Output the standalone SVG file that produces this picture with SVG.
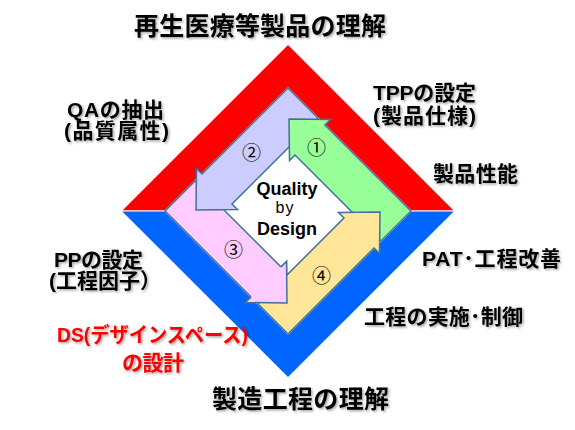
<svg xmlns="http://www.w3.org/2000/svg" width="575" height="430" viewBox="0 0 575 430">
<defs>
<style>
.lbl{font-family:"Liberation Sans","Noto Sans CJK JP",sans-serif;font-weight:bold;font-size:21px;fill:#000}
.ttl{font-size:25px}
.red{fill:#FF0000}
.ctr{font-family:"Liberation Sans",Arial,sans-serif;font-weight:bold;font-size:18px;fill:#000}
.by{font-family:"Liberation Sans",Arial,sans-serif;font-size:16px;fill:#000;letter-spacing:1px}
.num{font-family:"Noto Sans CJK JP","DejaVu Sans",sans-serif;font-size:19px;fill:#000}
.arr{stroke:#41719C;stroke-width:1.5;stroke-linejoin:miter}
</style>
<filter id="sh" x="-10%" y="-30%" width="125%" height="170%">
<feDropShadow dx="1.5" dy="1.5" stdDeviation="1" flood-color="#000" flood-opacity="0.35"/>
</filter>
</defs>
<rect width="575" height="430" fill="#FFFFFF"/>
<g id="frame">
<polygon points="122.7,210.3 288,45 453.3,210.3" fill="#FF0000"/>
<polygon points="122.3,211.4 453.7,211.4 288,377" fill="#0066FF"/>
<polygon points="288,87 412,211 288,335 164,211" fill="#FFFFFF"/>
</g>
<g id="connectors">
<polygon id="arrow3" class="arr" fill="#FFCCFF" points="165,211 195,181 281,267 286.5,261.5 287,303 245.5,302.5 251,297"/>
<polygon id="arrow2" class="arr" fill="#CCCCFF" points="288,88 318,118 232,204 237.5,209.5 196,210 196.5,168.5 202,174"/>
<polygon id="arrow1" class="arr" fill="#99FF99" points="411,211 381,241 295,155 289.5,160.5 289,119 330.5,119.5 325,125"/>
<polygon id="arrow4" class="arr" fill="#FFE699" points="288,334 258,304 344,218 338.5,212.5 380,212 379.5,253.5 374,248"/>
<polyline id="arrow3-head" class="arr" fill="#FFCCFF" points="281,267 286.5,261.5 287,303 245.5,302.5 251,297"/>
</g>
<g id="center">
<text class="ctr" x="287" y="194.5" text-anchor="middle">Quality</text>
<text class="by" x="275.5" y="213">by</text>
<text class="ctr" x="287" y="234.5" text-anchor="middle">Design</text>
</g>
<g id="numbers">
<text class="num" x="316.5" y="155.3" text-anchor="middle">①</text>
<text class="num" x="251.5" y="160.3" text-anchor="middle">②</text>
<text class="num" x="233.5" y="256.8" text-anchor="middle">③</text>
<text class="num" x="321.5" y="283.3" text-anchor="middle">④</text>
</g>
<g id="labels" filter="url(#sh)">
<text class="lbl ttl" x="134" y="35" textLength="252">再生医療等製品の理解</text>
<text class="lbl ttl" x="212" y="408" textLength="177">製造工程の理解</text>
<text class="lbl" x="373" y="100" textLength="103">TPPの設定</text>
<text class="lbl" x="373" y="122.5" textLength="103">(製品仕様)</text>
<text class="lbl" x="433" y="181" textLength="85">製品性能</text>
<text class="lbl" x="422" y="266" textLength="139">PAT･工程改善</text>
<text class="lbl" x="364" y="324" textLength="159">工程の実施･制御</text>
<text class="lbl" x="67" y="117" textLength="97">QAの抽出</text>
<text class="lbl" x="64" y="138" textLength="105">(品質属性)</text>
<text class="lbl" x="54" y="266.5" textLength="89">PPの設定</text>
<text class="lbl" x="49" y="287.5" textLength="112">(工程因子）</text>
<text class="lbl red" x="57" y="342" textLength="191" lengthAdjust="spacingAndGlyphs">DS(デザインスペース)</text>
<text class="lbl red" x="122" y="370" textLength="62">の設計</text>
</g>
</svg>
